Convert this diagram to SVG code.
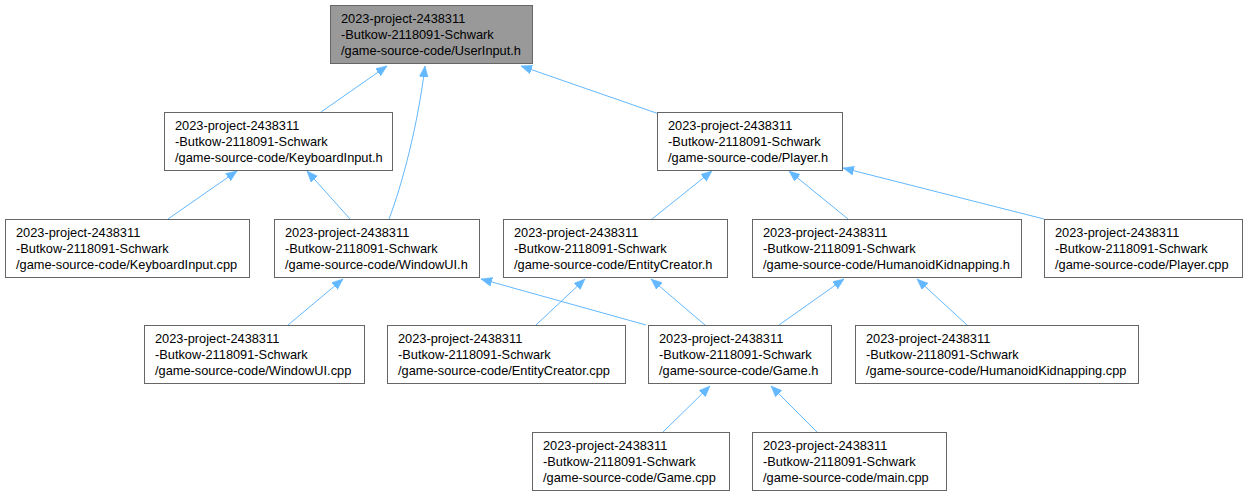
<svg xmlns="http://www.w3.org/2000/svg" width="1248" height="496" viewBox="0 0 1248 496">
<style>
.box{fill:#ffffff;stroke:#666666;stroke-width:1}
.root{fill:#999999;stroke:#666666;stroke-width:1}
.t{font-family:"Liberation Sans",Arial,sans-serif;font-size:12.8px;fill:#000000}
.e{fill:none;stroke:#63b8ff;stroke-width:1;marker-end:url(#ah)}
</style>
<defs>
<marker id="ah" markerUnits="userSpaceOnUse" markerWidth="12" markerHeight="10" refX="11" refY="4.5" orient="auto">
<path d="M0,0 L11,4.5 L0,9 z" fill="#63b8ff" stroke="#63b8ff" stroke-width="0.5"/>
</marker>
</defs>
<rect width="1248" height="496" fill="#ffffff"/>
<g id="edges">
<path class="e" d="M321,112 L387,66"/>
<path class="e" d="M389,219 C402,185 418,125 425,66"/>
<path class="e" d="M662,115 L521,66"/>
<path class="e" d="M168,219 L237,171"/>
<path class="e" d="M350,219 L307,171"/>
<path class="e" d="M652,219 L712,171"/>
<path class="e" d="M848,219 L789,171"/>
<path class="e" d="M1044,219 L843,168"/>
<path class="e" d="M288,325 L343,279"/>
<path class="e" d="M646,325 L481,279"/>
<path class="e" d="M536,325 L585,279"/>
<path class="e" d="M705,325 L651,279"/>
<path class="e" d="M779,325 L844,279"/>
<path class="e" d="M967,325 L917,279"/>
<path class="e" d="M663,432 L710,386"/>
<path class="e" d="M817,432 L771,386"/>
</g>
<g id="n0"><rect class="root" x="330.5" y="5.5" width="202" height="58"/><text class="t" x="341" y="23">2023-project-2438311</text><text class="t" x="341" y="39">-Butkow-2118091-Schwark</text><text class="t" x="341" y="55">/game-source-code/UserInput.h</text></g>
<g id="n1"><rect class="box" x="164.5" y="112.5" width="228" height="58"/><text class="t" x="175" y="130">2023-project-2438311</text><text class="t" x="175" y="146">-Butkow-2118091-Schwark</text><text class="t" x="175" y="162">/game-source-code/KeyboardInput.h</text></g>
<g id="n2"><rect class="box" x="657.5" y="112.5" width="185" height="58"/><text class="t" x="668" y="130">2023-project-2438311</text><text class="t" x="668" y="146">-Butkow-2118091-Schwark</text><text class="t" x="668" y="162">/game-source-code/Player.h</text></g>
<g id="n3"><rect class="box" x="5.5" y="219.5" width="244" height="58"/><text class="t" x="16" y="237">2023-project-2438311</text><text class="t" x="16" y="253">-Butkow-2118091-Schwark</text><text class="t" x="16" y="269">/game-source-code/KeyboardInput.cpp</text></g>
<g id="n4"><rect class="box" x="274.5" y="219.5" width="205" height="58"/><text class="t" x="285" y="237">2023-project-2438311</text><text class="t" x="285" y="253">-Butkow-2118091-Schwark</text><text class="t" x="285" y="269">/game-source-code/WindowUI.h</text></g>
<g id="n5"><rect class="box" x="503.5" y="219.5" width="224" height="58"/><text class="t" x="514" y="237">2023-project-2438311</text><text class="t" x="514" y="253">-Butkow-2118091-Schwark</text><text class="t" x="514" y="269">/game-source-code/EntityCreator.h</text></g>
<g id="n6"><rect class="box" x="752.5" y="219.5" width="269" height="58"/><text class="t" x="763" y="237">2023-project-2438311</text><text class="t" x="763" y="253">-Butkow-2118091-Schwark</text><text class="t" x="763" y="269">/game-source-code/HumanoidKidnapping.h</text></g>
<g id="n7"><rect class="box" x="1044.5" y="219.5" width="198" height="58"/><text class="t" x="1055" y="237">2023-project-2438311</text><text class="t" x="1055" y="253">-Butkow-2118091-Schwark</text><text class="t" x="1055" y="269">/game-source-code/Player.cpp</text></g>
<g id="n8"><rect class="box" x="144.5" y="325.5" width="220" height="58"/><text class="t" x="155" y="343">2023-project-2438311</text><text class="t" x="155" y="359">-Butkow-2118091-Schwark</text><text class="t" x="155" y="375">/game-source-code/WindowUI.cpp</text></g>
<g id="n9"><rect class="box" x="387.5" y="325.5" width="238" height="58"/><text class="t" x="398" y="343">2023-project-2438311</text><text class="t" x="398" y="359">-Butkow-2118091-Schwark</text><text class="t" x="398" y="375">/game-source-code/EntityCreator.cpp</text></g>
<g id="n10"><rect class="box" x="648.5" y="325.5" width="183" height="58"/><text class="t" x="659" y="343">2023-project-2438311</text><text class="t" x="659" y="359">-Butkow-2118091-Schwark</text><text class="t" x="659" y="375">/game-source-code/Game.h</text></g>
<g id="n11"><rect class="box" x="855.5" y="325.5" width="283" height="58"/><text class="t" x="866" y="343">2023-project-2438311</text><text class="t" x="866" y="359">-Butkow-2118091-Schwark</text><text class="t" x="866" y="375">/game-source-code/HumanoidKidnapping.cpp</text></g>
<g id="n12"><rect class="box" x="532.5" y="432.5" width="197" height="58"/><text class="t" x="543" y="450">2023-project-2438311</text><text class="t" x="543" y="466">-Butkow-2118091-Schwark</text><text class="t" x="543" y="482">/game-source-code/Game.cpp</text></g>
<g id="n13"><rect class="box" x="752.5" y="432.5" width="194" height="58"/><text class="t" x="763" y="450">2023-project-2438311</text><text class="t" x="763" y="466">-Butkow-2118091-Schwark</text><text class="t" x="763" y="482">/game-source-code/main.cpp</text></g>
</svg>
